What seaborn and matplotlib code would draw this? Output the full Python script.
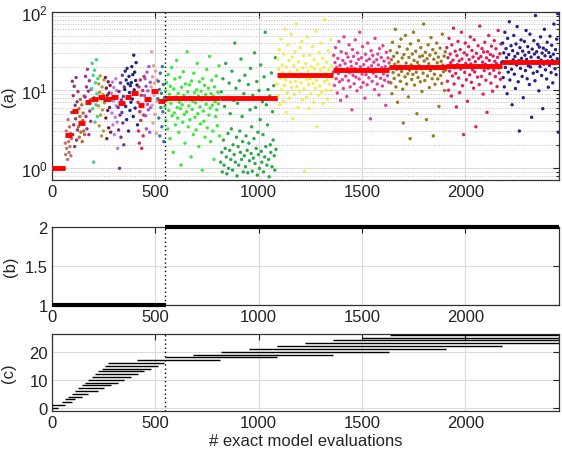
import numpy as np
import pandas as pd
import seaborn as sns
import matplotlib.pyplot as plt
from matplotlib.ticker import LogLocator, NullFormatter

sns.set_theme(style="white")
plt.rcParams['font.family'] = ['Liberation Sans', 'DejaVu Sans']

# --- DATA ---
# segment edges (exact model evaluation index) for each batch of evaluations
seg_edges = [0, 63, 95, 127, 159, 191, 223, 255, 287, 319, 351, 383, 415, 447,
             479, 511, 545, 815, 1088, 1360, 1633, 1907, 2177, 2452]

# median error per segment (red bars in panel a)
seg_median = [1.0, 2.7, 5.4, 3.8, 7.1, 7.7, 8.1, 7.7, 8.1, 6.8, 8.1, 9.1, 6.5,
              7.8, 9.8, 7.2, 7.9, 7.9, 15.6, 17.9, 19.5, 20.1, 23.0]

# scattered evaluations per segment (panel a)
seg_values = [
    [1.0, 1.0, 1.0, 1.0, 1.0, 1.0, 1.0, 1.0, 1.0, 1.0],
    [2.1, 1.5, 3.0, 1.8, 2.6, 1.3, 4.2, 2.2, 1.6, 3.4, 1.9, 2.8, 1.45, 2.4],
    [5.2, 13.0, 2.7, 8.5, 3.6, 11.2, 1.9, 6.4, 4.3, 14.5, 2.3, 7.1, 3.1, 9.6],
    [3.4, 5.8, 2.5, 4.6, 7.6, 2.9, 3.9, 6.5, 2.2, 4.1, 5.1, 3.0, 8.4, 2.7],
    [8.2, 15.0, 4.6, 11.0, 3.2, 18.5, 6.8, 9.7, 2.7, 13.2, 5.4, 7.5, 4.0, 10.3],
    [10.5, 22.0, 5.8, 15.5, 1.2, 8.1, 18.0, 3.9, 12.4, 6.5, 24.5, 9.0, 4.6, 14.0],
    [6.3, 12.0, 3.5, 9.4, 15.2, 4.8, 7.7, 2.6, 11.0, 5.6, 8.8, 3.0, 13.5, 6.9],
    [7.4, 14.5, 4.4, 10.6, 2.4, 8.6, 5.5, 12.8, 3.3, 9.2, 6.0, 11.5, 2.9, 7.8],
    [9.1, 5.1, 12.7, 3.6, 7.3, 10.8, 2.7, 8.2, 4.5, 14.0, 6.3, 9.9, 3.9, 1.8],
    [6.0, 3.1, 9.6, 1.0, 4.8, 12.4, 2.5, 7.5, 5.2, 15.5, 3.8, 8.3, 2.0, 11.0],
    [10.2, 17.5, 6.2, 13.5, 4.2, 19.0, 8.1, 12.1, 3.0, 15.0, 9.3, 5.5, 11.4, 7.0],
    [12.5, 20.0, 7.7, 15.8, 4.6, 28.0, 10.1, 17.0, 5.9, 13.3, 22.5, 8.9, 11.6, 3.6],
    [7.0, 3.0, 11.0, 2.1, 5.3, 13.5, 4.1, 8.6, 1.8, 6.2, 9.9, 2.6, 4.8, 15.0],
    [8.5, 14.0, 4.7, 11.2, 3.2, 17.0, 6.6, 9.8, 5.6, 20.0, 7.4, 2.9, 12.6, 6.0],
    [11.0, 31.0, 6.4, 14.8, 3.8, 20.5, 8.6, 12.3, 4.9, 17.5, 9.7, 2.8, 13.5, 7.3],
    [7.8, 13.0, 4.4, 10.2, 2.6, 16.5, 6.0, 9.1, 3.4, 20.0, 5.3, 11.8, 2.2, 8.0],
    [6.2, 9.8, 4.1, 12.5, 7.3, 3.2, 15.8, 5.5, 8.9, 2.4, 11.2, 6.8, 19.5, 4.7, 7.9,
     1.6, 10.4, 5.1, 13.9, 3.6, 8.2, 24.0, 6.0, 4.4, 9.1, 2.9, 7.0, 14.6, 5.8, 1.1,
     10.9, 6.5, 3.9, 17.2, 8.6, 4.9, 2.1, 12.0, 7.6, 5.3, 31.0, 9.5, 3.4, 6.3, 11.7,
     4.2, 8.0, 1.4, 13.1, 5.7, 7.2, 2.7, 16.5, 9.3, 4.5, 6.9, 3.1, 10.1, 22.0, 5.0,
     8.4, 1.9, 12.8, 6.1, 3.7, 9.7, 7.5, 0.95, 14.0, 5.4, 4.0, 11.5, 2.5, 8.8, 6.6,
     18.4, 3.3, 7.7, 10.6, 4.8, 27.0, 5.9, 2.2, 9.0, 13.4, 6.4, 3.0, 8.3, 1.3, 11.0,
     7.1, 4.6, 15.2, 5.6, 3.5, 9.4, 6.7, 20.5, 2.6, 8.1],
    [1.2, 9.5, 1.6, 0.9, 14.0, 2.3, 1.1, 6.2, 1.8, 22.0, 1.4, 0.85, 8.1, 2.8, 1.0,
     12.3, 1.7, 5.0, 1.3, 3.2, 17.5, 0.95, 2.0, 7.4, 1.5, 40.0, 1.2, 10.6, 2.5, 0.8,
     6.8, 1.9, 1.1, 13.2, 3.0, 1.6, 25.0, 1.3, 4.6, 2.2, 0.9, 9.0, 1.45, 15.5, 1.05,
     2.6, 7.9, 1.7, 0.88, 11.8, 2.1, 1.25, 5.6, 19.0, 1.55, 3.4, 0.92, 8.6, 1.35, 2.4,
     30.0, 1.15, 6.0, 1.8, 12.9, 0.82, 2.9, 1.5, 9.9, 1.0, 4.2, 21.0, 1.65, 1.2, 7.1,
     2.7, 0.9, 14.8, 1.4, 55.0, 1.9, 6.5, 1.1, 3.6, 10.2, 1.3, 0.78, 8.4, 2.0, 1.6,
     16.6, 1.05, 5.3, 2.3, 11.4, 1.45, 0.95, 26.0, 1.75, 7.6],
    [12.0, 25.0, 8.4, 18.5, 33.0, 6.5, 14.2, 45.0, 10.1, 21.0, 16.8, 7.2, 29.0, 11.5,
     60.0, 13.6, 5.2, 19.8, 9.3, 38.0, 15.0, 24.0, 7.9, 17.1, 12.7, 52.0, 10.8, 26.5,
     4.3, 15.9, 20.6, 8.8, 31.0, 13.0, 70.0, 11.1, 18.0, 6.0, 23.0, 14.6, 9.7, 35.0,
     16.2, 12.4, 42.0, 7.5, 19.2, 27.5, 10.4, 0.92, 15.3, 22.0, 8.1, 13.8, 48.0, 17.6,
     11.8, 5.8, 28.0, 14.0, 9.0, 20.0, 16.0, 36.0, 12.2, 7.0, 24.5, 18.8, 10.6, 57.0,
     13.3, 3.4, 21.5, 15.6, 8.6, 30.0, 11.3, 17.9, 40.0, 9.5, 14.9, 25.5, 6.8, 19.5,
     12.9, 80.0, 16.4, 10.0, 22.8, 13.5, 7.7, 32.0, 18.2, 11.9, 15.2, 44.0, 9.9, 20.3,
     14.4, 26.8],
    [17.0, 28.0, 11.5, 22.5, 35.0, 14.0, 19.6, 9.2, 25.5, 16.3, 42.0, 12.8, 20.8, 7.4,
     31.0, 18.4, 13.6, 24.0, 10.5, 48.0, 17.7, 21.9, 15.1, 29.5, 8.3, 19.0, 26.5, 13.2,
     38.0, 16.8, 11.0, 23.2, 20.1, 5.6, 33.0, 15.5, 27.0, 12.1, 18.9, 44.0, 14.7, 22.0,
     9.8, 30.0, 17.3, 24.8, 13.9, 55.0, 19.9, 10.9, 26.0, 16.0, 36.0, 12.5, 21.2, 18.0,
     7.9, 28.8, 15.8, 23.8, 11.7, 40.0, 19.3, 14.4, 25.0, 17.5, 4.3, 32.0, 20.5, 13.0,
     27.8, 16.5, 22.8, 10.2, 46.0, 18.6, 15.0, 24.5, 12.0, 29.0, 21.0, 8.7, 34.0, 17.9,
     14.2, 26.2, 19.4, 11.3, 37.0, 16.1, 23.5, 13.4, 20.0, 6.4, 30.5, 18.2, 15.3, 25.8,
     12.7, 22.3],
    [19.0, 32.0, 12.4, 24.5, 9.0, 41.0, 16.8, 27.0, 14.1, 21.5, 60.0, 11.0, 18.4, 30.0,
     7.0, 23.0, 15.6, 36.0, 20.2, 13.0, 45.0, 17.4, 25.8, 10.3, 3.8, 28.5, 19.8, 14.8,
     50.0, 22.2, 12.0, 33.5, 16.2, 8.2, 26.2, 18.0, 2.4, 39.0, 21.0, 13.7, 29.0, 15.9,
     55.0, 24.0, 11.6, 19.4, 31.5, 17.0, 5.0, 22.7, 14.5, 43.0, 20.6, 26.8, 12.8, 35.0,
     18.7, 9.6, 27.5, 16.5, 70.0, 23.6, 13.3, 30.5, 19.1, 4.2, 25.2, 15.2, 38.0, 21.8,
     10.8, 28.0, 17.8, 47.0, 20.0, 14.0, 33.0, 2.6, 24.8, 16.0, 11.9, 29.8, 18.9, 40.0,
     22.4, 13.9, 26.5, 6.2, 19.7, 34.5, 15.4, 23.4, 12.2, 52.0, 20.9, 17.2, 27.2, 9.9,
     31.0, 18.1],
    [20.0, 35.0, 13.0, 26.0, 10.0, 46.0, 17.5, 29.0, 22.5, 8.4, 38.0, 15.2, 24.2, 62.0,
     12.0, 19.3, 31.5, 16.4, 6.1, 27.6, 21.2, 42.0, 14.3, 23.7, 9.3, 33.0, 18.6, 55.0,
     25.0, 11.4, 20.7, 2.7, 30.0, 16.9, 40.0, 22.0, 13.6, 28.2, 7.2, 19.9, 36.0, 24.6,
     15.7, 48.0, 21.6, 12.6, 32.2, 18.2, 26.6, 10.6, 44.0, 17.1, 23.1, 3.4, 29.6, 20.4,
     14.7, 37.0, 25.5, 11.8, 66.0, 19.6, 27.0, 15.0, 34.0, 22.8, 8.9, 30.8, 17.8, 41.0,
     21.4, 13.4, 25.9, 5.2, 31.0, 19.0, 50.0, 24.0, 16.2, 28.6, 12.3, 36.5, 20.9, 9.7,
     27.3, 18.0, 43.0, 23.4, 14.9, 33.8, 21.8, 11.1, 26.3, 58.0, 19.2, 16.6, 29.2, 13.8,
     39.0, 22.3],
    [23.0, 40.0, 14.5, 30.0, 11.0, 55.0, 19.5, 34.0, 26.0, 9.0, 46.0, 17.0, 28.5, 75.0,
     13.5, 22.0, 37.0, 18.5, 6.5, 32.0, 24.5, 50.0, 16.0, 27.0, 10.5, 39.0, 21.0, 65.0,
     29.5, 12.8, 23.8, 3.0, 35.0, 19.0, 44.0, 25.5, 15.0, 31.5, 8.0, 22.5, 42.0, 28.0,
     17.8, 58.0, 24.8, 14.0, 36.0, 20.5, 30.5, 11.8, 52.0, 19.8, 26.5, 4.5, 33.5, 23.2,
     16.5, 43.0, 29.0, 13.2, 90.0, 22.2, 31.0, 17.3, 38.5, 26.2, 9.8, 35.5, 20.0, 48.0,
     24.2, 15.4, 29.8, 5.8, 34.5, 21.5, 60.0, 27.5, 18.2, 32.5, 13.9, 41.0, 23.6, 10.9,
     30.2, 20.8, 49.0, 26.8, 16.8, 37.5, 24.0, 12.4, 28.8, 70.0, 21.8, 18.8, 33.0, 15.8,
     45.0, 25.2, 95.0, 2.9],
]

# panel b: number of active model levels
b_start = [0, 547]
b_end = [550, 2452]
b_level = [1, 2]

# panel c: active window of each model index
c_start = [0, 0, 47, 63, 79, 95, 111, 127, 144, 160, 176, 192, 208, 224, 240, 257,
           273, 410, 547, 681, 817, 954, 1091, 1226, 1362, 1499, 1635]
c_end = [28, 63, 95, 111, 144, 176, 221, 253, 286, 318, 350, 382, 415, 447, 479, 512,
         544, 813, 1088, 1359, 1633, 1907, 2177, 2452, 2452, 2452, 2452]

switch_x = 547

# --- STYLE ---
seg_colors = ['#d04848', '#c27272', '#8e3a70', '#b46a3c', '#a0309a', '#3ad67a',
              '#b09a3c', '#7a1f44', '#b77fdc', '#7b2fa0', '#1d2a80', '#242080',
              '#d42a55', '#a352d0', '#e89a9a', '#3a7a9a', '#3cea3c', '#2fa84c',
              '#f2ec55', '#e4409e', '#9c7a22', '#e0215a', '#2a1f8c']
XMAX = 2452
FS = 12

# build scatter table
rows = []
for k, vals in enumerate(seg_values):
    s, e = seg_edges[k], seg_edges[k + 1]
    n = len(vals)
    xs = s + (e - s) * (np.arange(n) + 0.5) / n
    for x, v in zip(xs, vals):
        rows.append((x, v, k))
df = pd.DataFrame(rows, columns=['eval', 'err', 'seg'])

fig = plt.figure(figsize=(5.62, 4.52), dpi=100)
ax_a = fig.add_axes([0.0925, 0.5996, 0.9015, 0.3717])
ax_b = fig.add_axes([0.0925, 0.323, 0.9015, 0.1726])
ax_c = fig.add_axes([0.0925, 0.0892, 0.9015, 0.169])

# (a)
sns.scatterplot(data=df, x='eval', y='err', hue='seg',
                palette=dict(enumerate(seg_colors)), s=6, linewidth=0,
                legend=False, ax=ax_a, zorder=3)
ax_a.hlines(seg_median, seg_edges[:-1], seg_edges[1:], color='#ff0000',
            linewidth=3.5, zorder=4)
ax_a.set_yscale('log')
ax_a.set_ylim(0.71, 100)
ax_a.yaxis.set_minor_locator(LogLocator(base=10, subs=np.arange(2, 10)))
ax_a.yaxis.set_minor_formatter(NullFormatter())
ax_a.grid(True, which='major', color='#dcdcdc', linewidth=0.8)
ax_a.grid(True, which='minor', axis='y', color='#bdbdbd', linestyle=':',
          linewidth=0.7)

# (b)
ax_b.hlines(b_level, b_start, b_end, color='black', linewidth=3, clip_on=False,
            zorder=4)
ax_b.set_ylim(1, 2)
ax_b.set_yticks([1, 1.5, 2])
ax_b.set_yticklabels(['1', '1.5', '2'])
ax_b.grid(True, color='#dcdcdc', linewidth=0.8)

# (c)
ax_c.hlines(np.arange(len(c_start)), c_start, c_end, color='black',
            linewidth=1.0, zorder=4)
ax_c.set_ylim(-1, 26.2)
ax_c.set_yticks([0, 10, 20])
ax_c.grid(True, color='#dcdcdc', linewidth=0.8)
ax_c.set_xlabel('# exact model evaluations', fontsize=FS, labelpad=2)

for ax, lab, lx in [(ax_a, '(a)', -0.072), (ax_b, '(b)', -0.068), (ax_c, '(c)', -0.072)]:
    ax.axvline(switch_x, color='black', linestyle=(0, (1, 2)), linewidth=1, zorder=5)
    ax.set_xlim(0, XMAX)
    ax.set_xticks([0, 500, 1000, 1500, 2000])
    ax.set_ylabel(lab, fontsize=FS)
    ax.yaxis.set_label_coords(lx, 0.5)
    ax.set_axisbelow(True)
    ax.tick_params(which='both', direction='in', top=True, right=True,
                   labelsize=FS, colors='#222222', length=4, width=0.8, pad=3)
    ax.tick_params(which='minor', length=2)
    for sp in ax.spines.values():
        sp.set_color('#333333')
        sp.set_linewidth(0.9)
    if ax is not ax_c:
        ax.set_xlabel('')

fig.savefig('out.png', dpi=100)
